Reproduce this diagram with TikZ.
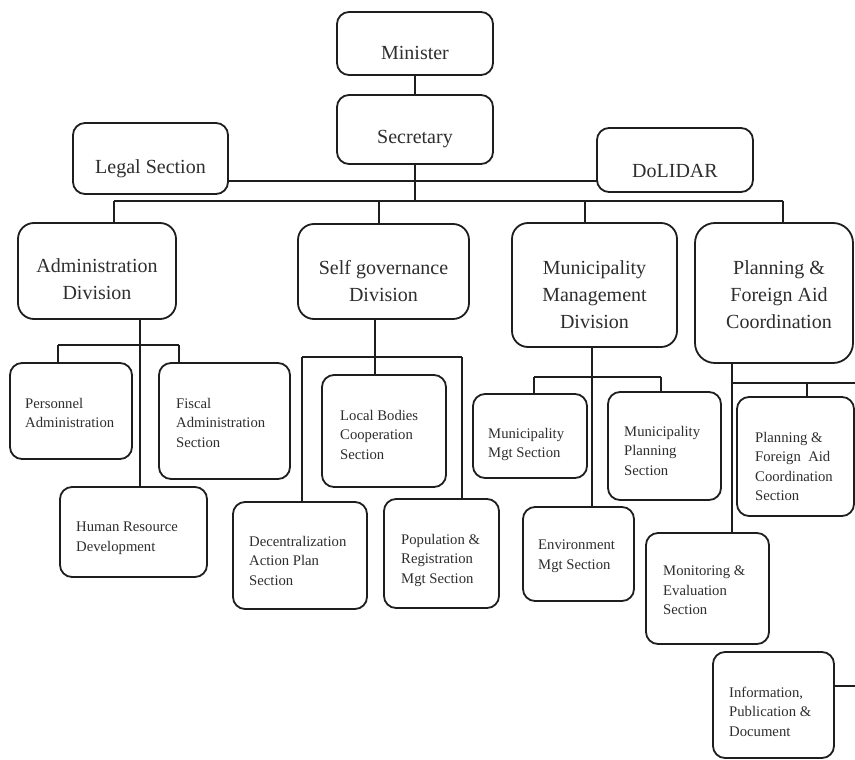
\documentclass[tikz,border=0pt]{standalone}
\usepackage{fontspec}
\setmainfont{Liberation Serif}
\definecolor{ink}{HTML}{1E1E1E}
\definecolor{txt}{HTML}{2E2E2E}

% box from corner (x1,y1) to (x2,y2), in pixel-like units
\newcommand{\obox}[6][]{%
  \node[box,#1,minimum width={#5pt-#3pt},minimum height={#6pt-#4pt}]
    (#2) at ({(#3+#5)/2},{(#4+#6)/2}) {};}

\tikzset{
  box/.style={draw=ink,line width=1.8pt,rounded corners=12pt,inner sep=0pt,outer sep=0pt,fill=white},
  divbox/.style={rounded corners=16pt},
  bigtxt/.style={inner sep=0pt,text=txt,align=center,font=\fontsize{20}{27}\selectfont},
  smalltxt/.style={inner sep=0pt,text=txt,align=left,anchor=north west,font=\fontsize{14.7}{19.3}\selectfont},
  link/.style={draw=ink,line width=1.8pt},
}

\begin{document}
\begin{tikzpicture}[x=1pt,y=-1pt]
\useasboundingbox[fill=white] (0,0) rectangle (855,760);

% ---- junction points of the connector lines
\coordinate (sideY) at (415,181);
\coordinate (busW) at (114,201);
\coordinate (busE) at (783,201);
\coordinate (sgDrop) at (379,201);
\coordinate (mmDrop) at (585,201);
\coordinate (admStem) at (140,330);
\coordinate (admL) at (58,345);
\coordinate (admR) at (179,345);
\coordinate (sgStem) at (375,340);
\coordinate (sgL) at (302,357);
\coordinate (sgR) at (462,357);
\coordinate (mmStem) at (592,360);
\coordinate (mmL) at (534,377);
\coordinate (mmR) at (661,377);
\coordinate (pfStem) at (732,370);
\coordinate (pfsDrop) at (807,383);
\coordinate (pfBusE) at (862,383);
\coordinate (infoE) at (862,686);

% ---- connectors (drawn first, boxes go on top)
\draw[link] (busW) -- (busE);
\draw[link] (sgL) -- (sgR);
\draw[link] (admL) -- (admR);
\draw[link] (mmL) -- (mmR);
\draw[link] (pfStem |- pfBusE) -- (pfBusE);

% ---- top level
\obox{min}{337}{12}{493}{75}
\obox{sec}{337}{95}{493}{164}
\obox{legal}{73}{123}{228}{194}
\obox{dol}{597}{128}{753}{192}

\node[bigtxt,anchor=base] (minT) at (415,60) {Minister};
\node[bigtxt,anchor=base] (secT) at (415,143) {Secretary};
\node[bigtxt,anchor=base] (legalT) at (150.5,173) {Legal Section};
\node[bigtxt,anchor=base] (dolT) at (675,177) {DoLIDAR};

% ---- divisions
\obox[divbox]{adm}{18}{223}{176}{319}
\obox[divbox]{sg}{298}{224}{469}{319}
\obox[divbox]{mm}{512}{223}{677}{347}
\obox[divbox,rounded corners=20pt]{pf}{695}{223}{853}{363}

\node[bigtxt,anchor=north] (admT) at (97,258.3) {Administration\\Division};
\node[bigtxt,anchor=north] (sgT) at (383.5,260.3) {Self governance\\Division};
\node[bigtxt,anchor=north] (mmT) at (594.5,260.3) {Municipality\\Management\\Division};
\node[bigtxt,anchor=north] (pfT) at (779,260.3) {Planning \&\\Foreign Aid\\Coordination};

% ---- sections
\obox{pers}{10}{363}{132}{459}
\obox{fis}{159}{363}{290}{479}
\obox{hr}{60}{487}{207}{577}
\obox{lb}{322}{375}{446}{487}
\obox{dec}{233}{502}{367}{609}
\obox{pop}{384}{499}{499}{608}
\obox{ms}{473}{394}{587}{478}
\obox{mp}{608}{392}{721}{500}
\obox{env}{523}{507}{634}{601}
\obox{pfs}{737}{397}{854}{516}
\obox{mon}{646}{533}{769}{644}
\obox{info}{713}{652}{834}{758}

\node[smalltxt] (persT) at (25,398) {Personnel\\Administration};
\node[smalltxt] (fisT) at (176,398) {Fiscal\\Administration\\Section};
\node[smalltxt] (hrT) at (76,522) {Human Resource\\Development};
\node[smalltxt] (lbT) at (340,410) {Local Bodies\\Cooperation\\Section};
\node[smalltxt] (decT) at (249,536) {Decentralization\\Action Plan\\Section};
\node[smalltxt] (popT) at (401,534) {Population \&\\Registration\\Mgt Section};
\node[smalltxt] (msT) at (488,428) {Municipality\\Mgt Section};
\node[smalltxt] (mpT) at (624,426) {Municipality\\Planning\\Section};
\node[smalltxt] (envT) at (538,540) {Environment\\Mgt Section};
\node[smalltxt] (pfsT) at (755,432) {Planning \&\\Foreign\ \ Aid\\Coordination\\Section};
\node[smalltxt] (monT) at (663,566) {Monitoring \&\\Evaluation\\Section};
\node[smalltxt] (infoT) at (729,687) {Information,\\Publication \&\\Document};

% ---- vertical links between boxes and buses
\draw[link] (min.south) -- (sec.north);
\draw[link] (sec.south) -- (sec.south |- busW);
\draw[link] (legal.east |- sideY) -- (dol.west |- sideY);
\draw[link] (busW) -- (busW |- adm.north);
\draw[link] (sgDrop) -- (sgDrop |- sg.north);
\draw[link] (mmDrop) -- (mmDrop |- mm.north);
\draw[link] (busE) -- (busE |- pf.north);

\draw[link] (admStem |- adm.south) -- (admStem |- hr.north);
\draw[link] (admL) -- (admL |- pers.north);
\draw[link] (admR) -- (admR |- fis.north);

\draw[link] (sgStem |- sg.south) -- (sgStem |- lb.north);
\draw[link] (sgL) -- (sgL |- dec.north);
\draw[link] (sgR) -- (sgR |- pop.north);

\draw[link] (mmStem |- mm.south) -- (mmStem |- env.north);
\draw[link] (mmL) -- (mmL |- ms.north);
\draw[link] (mmR) -- (mmR |- mp.north);

\draw[link] (pfStem |- pf.south) -- (pfStem |- mon.north);
\draw[link] (pfsDrop) -- (pfsDrop |- pfs.north);
\draw[link] (info.east |- infoE) -- (infoE);
\end{tikzpicture}
\end{document}
